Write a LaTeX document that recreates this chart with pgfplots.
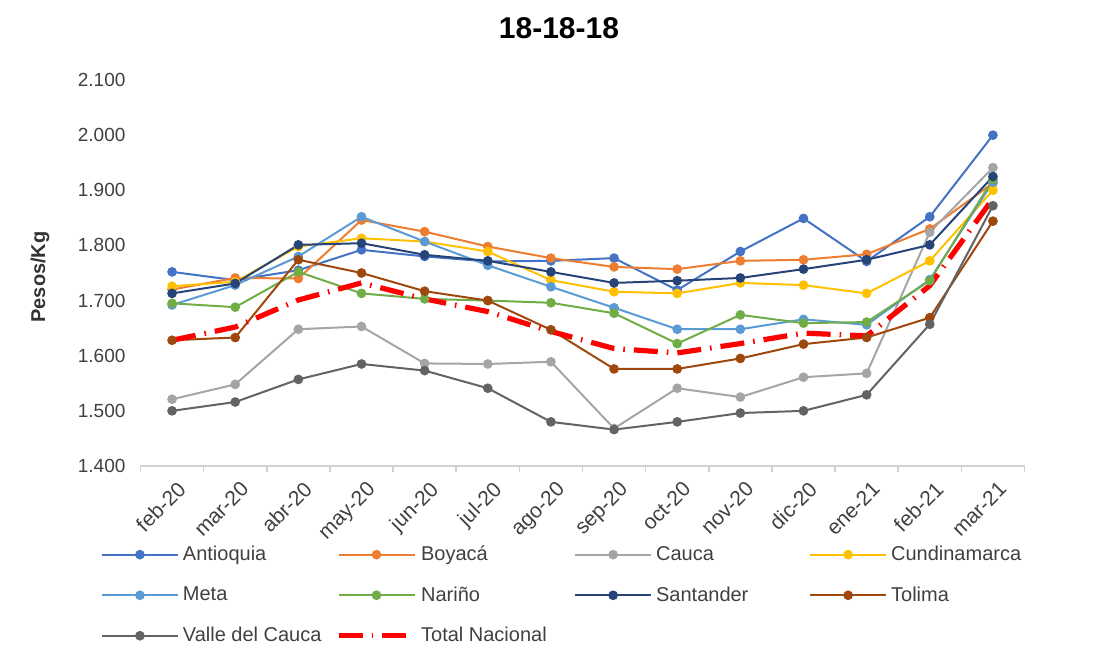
\documentclass[border=0pt]{standalone}
\usepackage{fontspec}
\setmainfont{Liberation Sans}
\usepackage{pgfplots}
\pgfplotsset{compat=1.18}
\definecolor{cAnt}{HTML}{4472C4}
\definecolor{cBoy}{HTML}{ED7D31}
\definecolor{cCau}{HTML}{A5A5A5}
\definecolor{cCun}{HTML}{FFC000}
\definecolor{cMet}{HTML}{5B9BD5}
\definecolor{cNar}{HTML}{70AD47}
\definecolor{cSan}{HTML}{264478}
\definecolor{cTol}{HTML}{9E480E}
\definecolor{cVal}{HTML}{636363}
\definecolor{cTxt}{HTML}{404040}
\begin{document}
\begin{tikzpicture}
\useasboundingbox (0,0) rectangle (552pt,331pt);
\begin{axis}[
  at={(70.25pt,98pt)}, anchor=south west,
  scale only axis, width=442pt, height=193pt,
  xmin=-0.5, xmax=13.5, ymin=1400, ymax=2100,
  ytick={1400,1500,...,2100},
  scaled y ticks=false,
  xtick={0,...,13},
  xticklabels={feb-20,mar-20,abr-20,may-20,jun-20,jul-20,ago-20,sep-20,oct-20,nov-20,dic-20,ene-21,feb-21,mar-21},
  minor xtick={-0.5,0.5,...,13.5},
  axis x line*=bottom, axis y line*=left,
  y axis line style={draw=none},
  x axis line style={draw=black!18, line width=0.8pt, -},
  major tick length=0pt,
  minor tick length=3pt,
  tick align=outside,
  minor tick style={draw=black!18, line width=0.8pt},
  /pgf/number format/assume math mode=true,
  /pgf/number format/fixed,
  /pgf/number format/precision=0,
  /pgf/number format/1000 sep={.},
  tick label style={font=\fontsize{9.5}{11}\selectfont, text=cTxt},
  y tick label style={xshift=-4pt},
  x tick label style={font=\fontsize{10.5}{12}\selectfont, rotate=45, anchor=north east, xshift=0pt, yshift=-3pt},
  legend columns=4,
  legend style={at={(-0.052,-0.185)}, anchor=north west, draw=none, fill=none,
    font=\fontsize{10}{12}\selectfont, text=cTxt, row sep=7.5pt},
  legend cell align=left,
  legend image code/.code={\draw[mark repeat=2,mark phase=2,#1] plot coordinates {(0pt,0pt) (19pt,0pt) (38pt,0pt)};},
  every axis plot/.append style={line width=1pt, mark=*, mark size=1.9pt, mark options={solid}},
]
\addplot[color=cAnt] coordinates {(0,1752)(1,1737)(2,1755)(3,1792)(4,1780)(5,1771)(6,1772)(7,1777)(8,1719)(9,1789)(10,1849)(11,1771)(12,1852)(13,2000)};
\addlegendentry{\makebox[74.5pt][l]{Antioquia}}
\addplot[color=cBoy] coordinates {(0,1720)(1,1741)(2,1740)(3,1846)(4,1825)(5,1798)(6,1777)(7,1761)(8,1757)(9,1772)(10,1774)(11,1784)(12,1830)(13,1913)};
\addlegendentry{\makebox[74.5pt][l]{Boyacá}}
\addplot[color=cCau] coordinates {(0,1521)(1,1548)(2,1648)(3,1653)(4,1586)(5,1585)(6,1589)(7,1468)(8,1541)(9,1525)(10,1561)(11,1568)(12,1824)(13,1941)};
\addlegendentry{\makebox[74.5pt][l]{Cauca}}
\addplot[color=cCun] coordinates {(0,1726)(1,1734)(2,1798)(3,1813)(4,1807)(5,1789)(6,1737)(7,1716)(8,1713)(9,1732)(10,1728)(11,1713)(12,1772)(13,1900)};
\addlegendentry{Cundinamarca}
\addplot[color=cMet] coordinates {(0,1692)(1,1728)(2,1780)(3,1852)(4,1807)(5,1764)(6,1725)(7,1687)(8,1648)(9,1648)(10,1666)(11,1656)(12,1738)(13,1915)};
\addlegendentry{\makebox[74.5pt][l]{Meta}}
\addplot[color=cNar] coordinates {(0,1695)(1,1688)(2,1752)(3,1713)(4,1703)(5,1700)(6,1696)(7,1677)(8,1622)(9,1674)(10,1659)(11,1661)(12,1736)(13,1920)};
\addlegendentry{\makebox[74.5pt][l]{Nariño}}
\addplot[color=cSan] coordinates {(0,1713)(1,1731)(2,1801)(3,1804)(4,1783)(5,1772)(6,1752)(7,1732)(8,1736)(9,1741)(10,1757)(11,1774)(12,1801)(13,1925)};
\addlegendentry{\makebox[74.5pt][l]{Santander}}
\addplot[color=cTol] coordinates {(0,1628)(1,1633)(2,1774)(3,1750)(4,1717)(5,1700)(6,1647)(7,1576)(8,1576)(9,1595)(10,1621)(11,1633)(12,1669)(13,1844)};
\addlegendentry{Tolima}
\addplot[color=cVal] coordinates {(0,1500)(1,1516)(2,1557)(3,1585)(4,1573)(5,1541)(6,1480)(7,1466)(8,1480)(9,1496)(10,1500)(11,1529)(12,1657)(13,1872)};
\addlegendentry{\makebox[74.5pt][l]{Valle del Cauca}}
\addplot[color=red, line width=2.6pt, no markers, dash pattern=on 12pt off 4.5pt on 0.8pt off 4.5pt] coordinates {(0,1628)(1,1652)(2,1701)(3,1732)(4,1703)(5,1680)(6,1644)(7,1613)(8,1605)(9,1622)(10,1641)(11,1636)(12,1727)(13,1885)};
\addlegendentry{Total Nacional}
\end{axis}
\node[font=\bfseries\fontsize{15}{17}\selectfont] at (279.5pt,317pt) {18-18-18};
\node[font=\bfseries\fontsize{10}{12}\selectfont, rotate=90, text=cTxt!80!black] at (20pt,192.5pt) {Pesos/Kg};
\end{tikzpicture}
\end{document}
